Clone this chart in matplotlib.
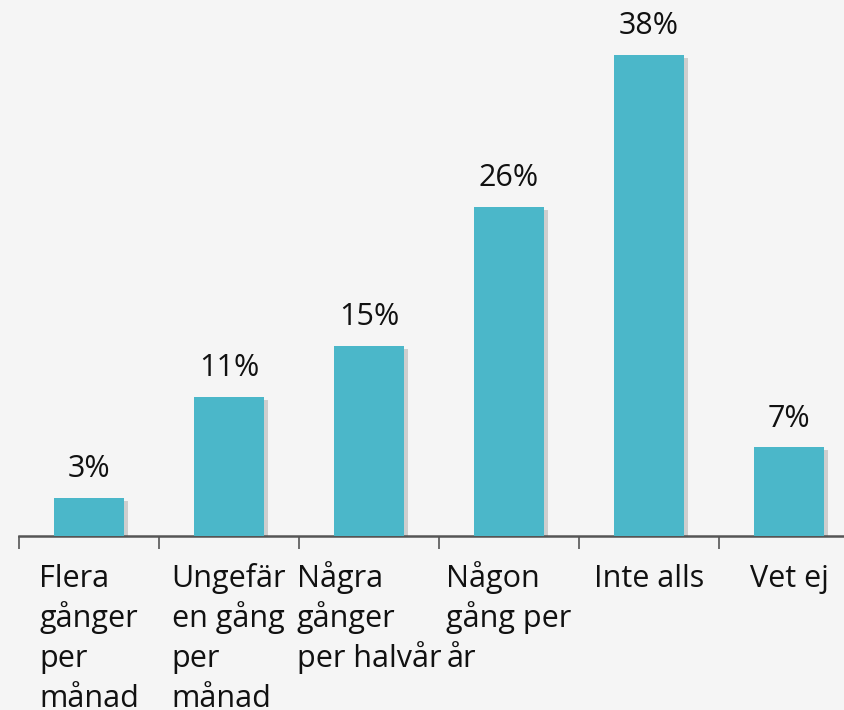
import matplotlib.pyplot as plt
import matplotlib.patheffects as pe

categories = ["Flera\ngånger\nper\nmånad", "Ungefär\nen gång\nper\nmånad",
              "Några\ngånger\nper halvår", "Någon\ngång per\når",
              "Inte alls", "Vet ej"]
values = [3, 11, 15, 26, 38, 7]

plt.rcParams['font.family'] = ['Open Sans', 'DejaVu Sans']

fig = plt.figure(figsize=(8.44, 7.10), dpi=100, facecolor='#f5f5f5')
ax = fig.add_axes([19 / 844, 174 / 710, 840 / 844, 506 / 710])
ax.set_facecolor('#f5f5f5')

x = list(range(len(values)))
bars = ax.bar(x, values, width=0.5, color='#4bb7c9', zorder=3)
for b in bars:
    b.set_path_effects([pe.SimplePatchShadow(offset=(3, -2), alpha=0.22, shadow_rgbFace='#444444'),
                        pe.Normal()])

# value labels
for xi, v in zip(x, values):
    ax.text(xi, v + 1.65, f"{v}%", ha='center', va='baseline', fontsize=22, color='#111111')

ax.set_xlim(-0.5, 5.5)
ax.set_ylim(0, 40)
for s in ['top', 'right', 'left']:
    ax.spines[s].set_visible(False)
ax.spines['bottom'].set_color('#555555')
ax.spines['bottom'].set_linewidth(1.8)
ax.set_yticks([])

ax.set_xticks([i - 0.5 for i in range(len(values) + 1)])
ax.set_xticklabels([])
ax.tick_params(axis='x', length=9, width=1.2, color='#555555', direction='out')

# category labels: one text per line, block centred under the bar, lines left-aligned
renderer = fig.canvas.get_renderer()
for xi, lab in zip(x, categories):
    lines = lab.split("\n")
    # measure the widest line
    widths = []
    for ln in lines:
        t = ax.text(0, 0, ln, fontsize=22)
        widths.append(t.get_window_extent(renderer).width)
        t.remove()
    w = max(widths)
    for i, ln in enumerate(lines):
        off_px = 51 + i * 40
        ax.annotate(ln, xy=(xi, 0), xytext=(-w / 2 * 0.72, -off_px * 0.72),
                    textcoords='offset points', ha='left', va='baseline',
                    fontsize=22, color='#111111', annotation_clip=False)

fig.savefig('out.png', dpi=100, facecolor=fig.get_facecolor())
